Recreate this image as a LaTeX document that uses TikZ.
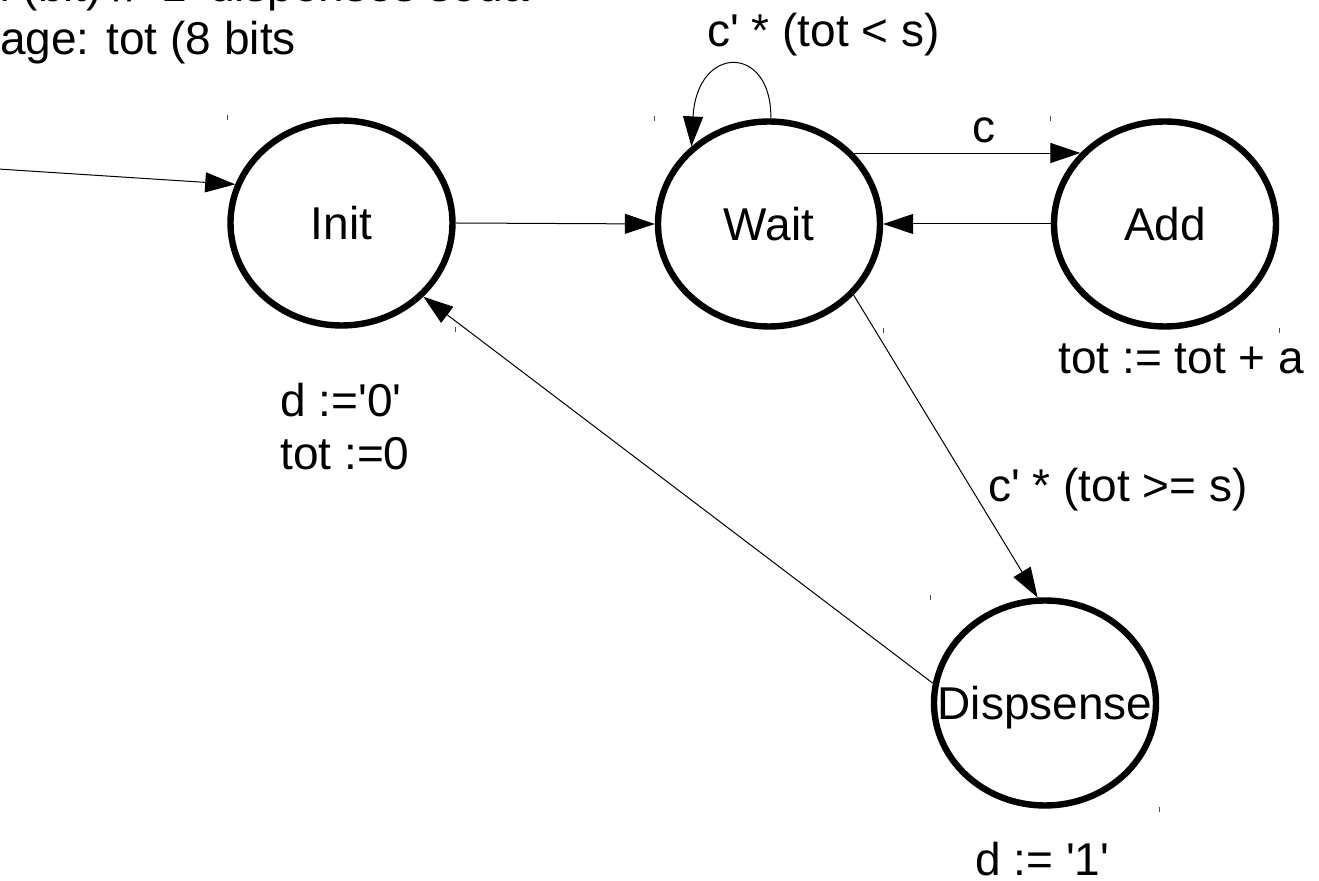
\documentclass[tikz,border=0pt]{standalone}
\usepackage{fontspec}
\newfontfamily\lsans{Liberation Sans}
\usetikzlibrary{arrows.meta,shapes.geometric}
\newcommand{\sq}{\textquotesingle}
\tikzset{
  txtfont/.style={font=\lsans\fontsize{23pt}{26.5pt}\selectfont},
  state/.style={ellipse,draw=black,line width=3.2pt,minimum width=111pt,minimum height=102.5pt,inner sep=0pt,
    label={[txtfont,inner sep=0pt,text depth=0pt]center:#1}},
  lbl/.style={anchor=base west,inner sep=0pt,txtfont},
  conn/.style={draw=black,line width=0.5pt,-{Triangle[length=15pt,width=10pt]}},
  tick/.style={draw=black!70,line width=0.5pt}
}
\begin{document}
\begin{tikzpicture}[x=0.5pt,y=-0.5pt]
\useasboundingbox (0,0) rectangle (1319,881);
\clip (0,0) rectangle (1319,881);
\fill[white] (0,0) rectangle (1319,881);
% states
\node[state=Init] (init) at (341.5,223) {};
\node[state=Wait] (wait) at (769,224) {};
\node[state=Add] (add) at (1165,224) {};
\node[state=Dispsense] (disp) at (1045,703) {};
% corner ticks
\foreach \n in {init,wait,add,disp}{
  \draw[tick] (\n.west |- \n.north) ++(0,-2) -- ++(0,5);
  \draw[tick] (\n.east |- \n.south) ++(0,-2) -- ++(0,5);
}
% text
\node[lbl] (t1) at (-16,2) {d (bit) // \sq1\sq{} dispenses soda};
\node[lbl] (t2) at (-77,55) {storage: tot (8 bits};
\node[lbl] (l0) at (280,417) {d :=\sq0\sq};
\node[lbl] (l1) at (280,470) {tot :=0};
\node[lbl] (la) at (1058,374) {tot := tot + a};
\node[lbl] (ld) at (975,876) {d := \sq1\sq};
\node[lbl] (lloop) at (707,47) {c\sq{} * (tot < s)};
\node[lbl] (lc) at (972,143) {c};
\node[lbl] (lge) at (988,502) {c\sq{} * (tot >= s)};
% connectors
\coordinate (start) at (-2,169);
\draw[conn] (start) -- (init.160);
\draw[conn] (init.east) -- (wait.west);
\draw[conn] (wait.40) -- (add.140);
\draw[conn] (add.west) -- (wait.east);
\draw[conn] (wait.-40) -- (disp.94);
\draw[conn] (disp.170) -- (init.-42);
\draw[conn] (wait.89) .. controls (772,44) and (697,44) .. (wait.135);
\end{tikzpicture}
\end{document}
